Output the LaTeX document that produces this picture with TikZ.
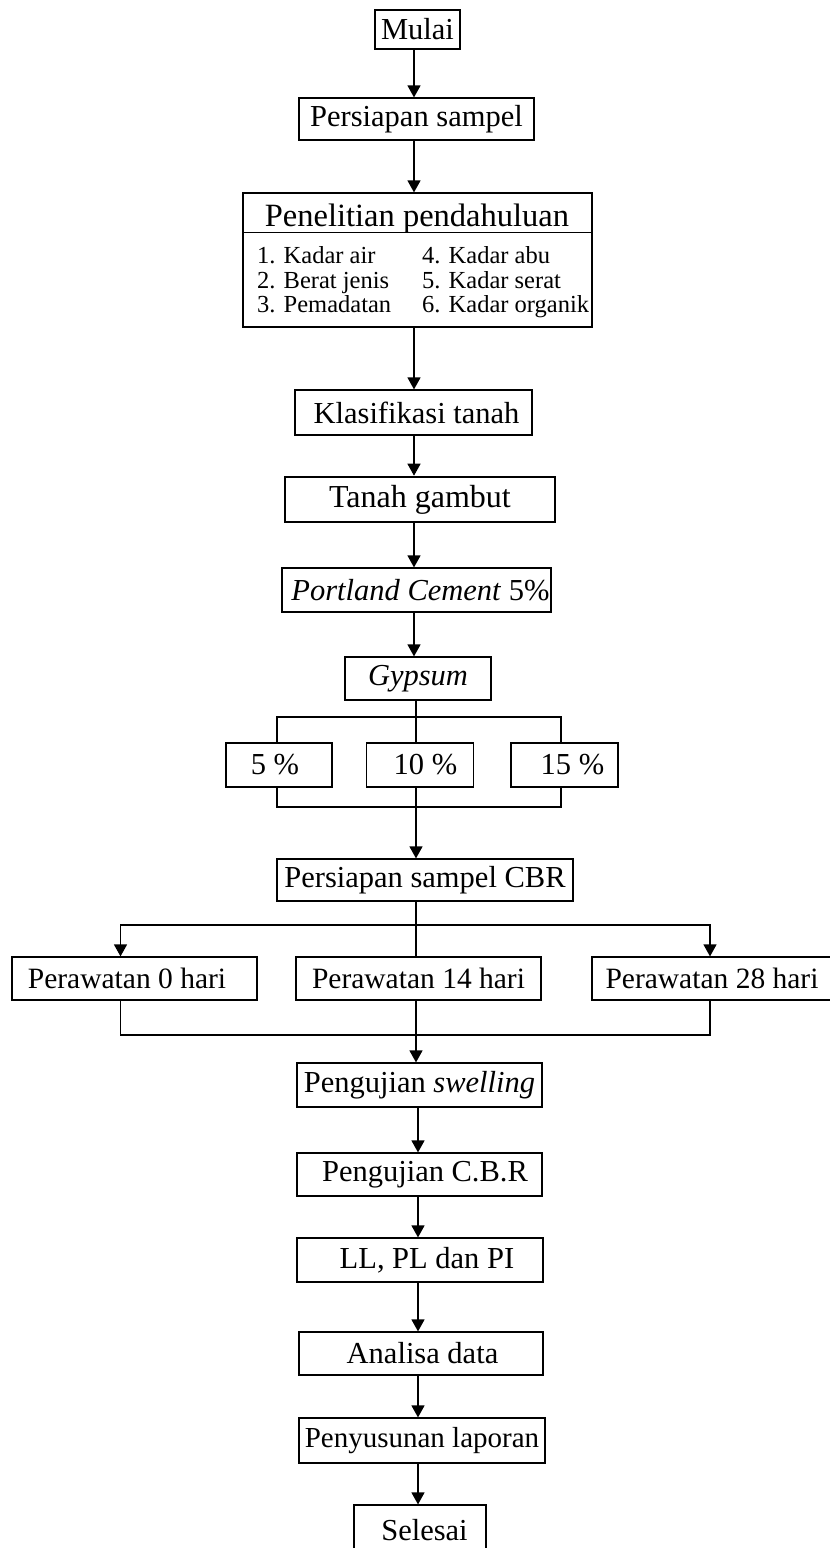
\documentclass[tikz,border=0pt]{standalone}
\usepackage{fontspec}
\setmainfont{Liberation Serif}
\usetikzlibrary{arrows.meta,calc}
\begin{document}
\begin{tikzpicture}[x=1pt,y=-1pt,
 box/.style={draw, line width=1.2pt, inner sep=0pt, font=\fontsize{30.5}{36}\selectfont},
 itm/.style={anchor=base west, inner sep=0pt, font=\fontsize{24.5}{26}\selectfont},
 ln/.style={line width=1.3pt},
 arr/.style={line width=1.3pt, -{Triangle[width=13pt,length=12pt]}}]
\useasboundingbox (0,0) rectangle (830,1548);
\clip (0,0) rectangle (830,1548);
\fill[white] (0,0) rectangle (830,1548);

% main column top
\node[box, minimum width=85, minimum height=39] (mulai) at (417.5,29.5) {Mulai};
\node[box, minimum width=235, minimum height=42] (ps) at (416.5,119) {Persiapan sampel};
\node[box, minimum width=349, minimum height=134] (pen) at (417.5,260) {};
\node[anchor=base, inner sep=0pt, font=\fontsize{32.5}{36}\selectfont] (penh) at (417,226) {Penelitian pendahuluan};
\draw[line width=1.2pt] ($(pen.north west)+(0,40)$) -- ($(pen.north east)+(0,40)$);
\node[itm] (i1) at (257,263) {1. Kadar air};
\node[itm] (i2) at (257,288) {2. Berat jenis};
\node[itm] (i3) at (257,312) {3. Pemadatan};
\node[itm] (i4) at (422,263) {4. Kadar abu};
\node[itm] (i5) at (422,288) {5. Kadar serat};
\node[itm] (i6) at (422,312) {6. Kadar organik};
\node[box, minimum width=237, minimum height=45] (kt) at (413.5,412.5) {\hspace*{6pt}Klasifikasi tanah};
\node[box, line width=2.6pt, minimum width=270, minimum height=45, font=\fontsize{32}{36}\selectfont] (tg) at (420,499.5) {Tanah gambut};
\node[box, minimum width=269, minimum height=44] (pc) at (416.5,590) {\hspace*{8pt}\textit{Portland Cement} 5\%};
\node[box, minimum width=146, minimum height=43] (gy) at (418,678.5) {\textit{Gypsum}};

% percentages
\node[box, minimum width=106, minimum height=44] (p5) at (279,765) {5 \%\hspace*{8pt}};
\node[box, minimum width=107, minimum height=44] (p10) at (420,765) {\hspace*{11pt}10 \%};
\node[box, minimum width=107, minimum height=44] (p15) at (564.5,765) {\hspace*{16pt}15 \%};

\node[box, minimum width=296, minimum height=42] (cbr) at (425,880) {Persiapan sampel CBR};

% curing
\node[box, minimum width=245, minimum height=43, font=\fontsize{29.5}{36}\selectfont] (h0) at (134.5,978.5) {Perawatan 0 hari\hspace*{15pt}};
\node[box, minimum width=245, minimum height=43, font=\fontsize{29.5}{36}\selectfont] (h14) at (418.5,978.5) {Perawatan 14 hari};
\node[box, minimum width=240, minimum height=43, font=\fontsize{29.5}{36}\selectfont] (h28) at (712,978.5) {Perawatan 28 hari};

% lower column
\node[box, minimum width=245, minimum height=44] (sw) at (419.5,1085) {Pengujian \textit{swelling}};
\node[box, minimum width=245, minimum height=43] (cb) at (419.5,1174.5) {\hspace*{11pt}Pengujian C.B.R};
\node[box, minimum width=246, minimum height=44] (ll) at (420,1260) {\hspace*{14pt}LL, PL dan PI};
\node[box, minimum width=244, minimum height=43] (an) at (421,1353.5) {\hspace*{3pt}Analisa data};
\node[box, minimum width=246, minimum height=45, font=\fontsize{29}{36}\selectfont] (py) at (422,1440.5) {Penyusunan laporan};
\node[box, minimum width=132, minimum height=50] (se) at (420,1530) {\hspace*{9pt}Selesai};

% trunk connectors
\coordinate (T) at (414,0);
\draw[arr] (mulai.south -| T) -- (ps.north -| T);
\draw[arr] (ps.south -| T) -- (pen.north -| T);
\draw[arr] (pen.south -| T) -- (kt.north -| T);
\draw[arr] (kt.south -| T) -- (tg.north -| T);
\draw[arr] (tg.south -| T) -- (pc.north -| T);
\draw[arr] (pc.south -| T) -- (gy.north -| T);

% gypsum branch
\coordinate (B) at (416,0);
\coordinate (j1) at (416,717);
\coordinate (j2) at (416,807);
\draw[ln] (gy.south -| B) -- (p10.north -| B);
\draw[ln] (p5.north -| 277,0) |- (j1) -| (p15.north -| 561,0);
\draw[ln] (p5.south -| 277,0) |- (j2) -| (p15.south -| 561,0);
\draw[arr] (p10.south -| B) -- (cbr.north -| B);

% curing branch
\coordinate (k) at (0,925);
\coordinate (m) at (0,1035);
\coordinate (h0a) at ($(h0.north)+(-14,0)$);
\draw[ln] (cbr.south -| B) -- (h14.north -| B);
\draw[arr] (B |- k) -| (h0a);
\draw[arr] (B |- k) -| ($(h28.north)+(-2,0)$);
\draw[ln] (h0a |- h0.south) |- (B |- m) -| ($(h28.south)+(-2,0)$);
\draw[arr] (h14.south -| B) -- (sw.north -| B);

% lower trunk
\coordinate (U) at (418,0);
\draw[arr] (sw.south -| U) -- (cb.north -| U);
\draw[arr] (cb.south -| U) -- (ll.north -| U);
\draw[arr] (ll.south -| U) -- (an.north -| U);
\draw[arr] (an.south -| U) -- (py.north -| U);
\draw[arr] (py.south -| U) -- (se.north -| U);
\end{tikzpicture}
\end{document}
